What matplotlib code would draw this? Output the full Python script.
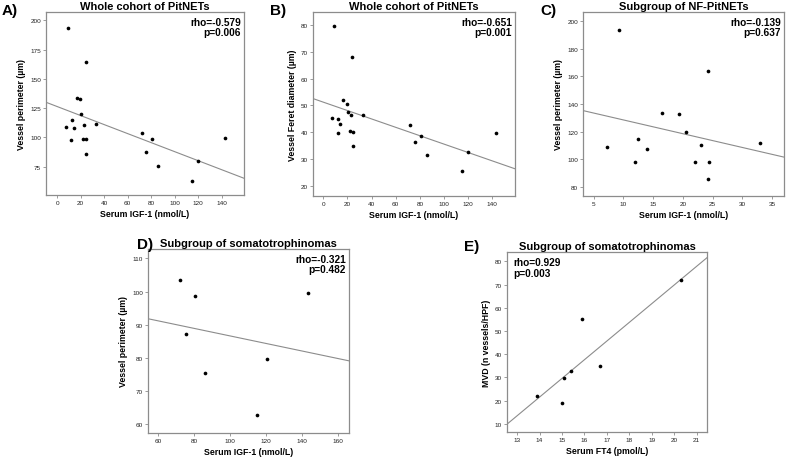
import numpy as np
import matplotlib
matplotlib.use("Agg")
import matplotlib.pyplot as plt

plt.rcParams['font.family'] = ['Liberation Sans', 'DejaVu Sans']

# NF-PitNETs (n=14): serum IGF-1, vessel perimeter, vessel Feret diameter
nf_igf = [7.2, 9.2, 11.9, 12.5, 14.0, 16.5, 19.4, 20.6, 22.1, 23.1, 24.2, 24.4, 24.3, 33.0]
nf_perim = [109.1, 193.7, 97.9, 114.6, 107.6, 133.5, 132.5, 119.7, 98.2, 110.3, 164.0, 98.2, 86.1, 111.5]
nf_feret = [45.5, 79.6, 39.7, 44.8, 43.1, 52.2, 50.7, 47.6, 40.6, 46.4, 68.2, 40.2, 35.1, 46.4]

# somatotrophinomas (n=7)
gh_igf = [72.0, 75.7, 80.7, 85.9, 115.0, 120.2, 143.0]
gh_perim = [103.5, 87.3, 98.7, 75.6, 62.8, 79.6, 99.7]
gh_feret = [42.8, 36.3, 38.5, 31.4, 25.6, 32.6, 39.6]

# somatotrophinomas: FT4 vs MVD
gh_ft4 = [13.89, 14.99, 15.09, 15.40, 15.91, 16.71, 20.30]
gh_mvd = [21.8, 19.2, 29.8, 32.8, 55.0, 35.1, 72.0]

all_igf = nf_igf + gh_igf
all_perim = nf_perim + gh_perim
all_feret = nf_feret + gh_feret

W, H = 786, 464
fig = plt.figure(figsize=(W / 100, H / 100), dpi=100)

grey = '#8c8c8c'

def box(l, t, r, b):
    return [l / W, 1 - b / H, (r - l) / W, (b - t) / H]

def panel(rect, x, y, xlim, ylim, xticks, yticks, title, xlabel, ylabel,
          letter, letter_xy, stats, stats_left=False):
    ax = fig.add_axes(rect)
    ax.scatter(x, y, s=7, color='black', zorder=3, linewidths=0)
    # least squares fit line across the whole axis
    k, c = np.polyfit(x, y, 1)
    xx = np.array(xlim)
    ax.plot(xx, k * xx + c, color=grey, lw=0.8, clip_on=True)
    ax.set_xlim(xlim)
    ax.set_ylim(ylim)
    ax.set_xticks(xticks)
    ax.set_yticks(yticks)
    ax.tick_params(labelsize=4.6, length=2, width=0.6, color=grey,
                   labelcolor='#222222', pad=1.5)
    for s in ax.spines.values():
        s.set_color(grey)
        s.set_linewidth(0.9)
    ax.set_title(title, fontsize=8, fontweight='bold', pad=2)
    ax.set_xlabel(xlabel, fontsize=6.3, fontweight='bold', labelpad=3)
    ax.set_ylabel(ylabel, fontsize=6.3, fontweight='bold', labelpad=3)
    if stats_left:
        ax.text(0.03, 0.97, stats, transform=ax.transAxes, ha='left', va='top',
                fontsize=7.3, fontweight='bold', linespacing=1.1)
    else:
        ax.text(0.985, 0.975, stats, transform=ax.transAxes, ha='right', va='top',
                fontsize=7.3, fontweight='bold', linespacing=1.1, multialignment='right')
    fig.text(letter_xy[0] / W, 1 - letter_xy[1] / H, letter, fontsize=11,
             fontweight='bold', ha='left', va='top')
    return ax

panel(box(46, 13, 244, 196), all_igf, all_perim, (-9.5, 159), (50.7, 207.1),
      range(0, 141, 20), range(75, 201, 25), 'Whole cohort of PitNETs',
      'Serum IGF-1 (nmol/L)', 'Vessel perimeter (\u00b5m)', 'A)', (2, 4),
      'rho=-0.579\np=0.006')

panel(box(313, 13, 515, 197), all_igf, all_feret, (-8.5, 158.8), (16.3, 84.8),
      range(0, 141, 20), range(20, 81, 10), 'Whole cohort of PitNETs',
      'Serum IGF-1 (nmol/L)', 'Vessel Feret diameter (\u00b5m)', 'B)', (270, 4),
      'rho=-0.651\np=0.001')

panel(box(583, 13, 784, 197), nf_igf, nf_perim, (3.2, 37.0), (73.5, 206.5),
      range(5, 36, 5), range(80, 201, 20), 'Subgroup of NF-PitNETs',
      'Serum IGF-1 (nmol/L)', 'Vessel perimeter (\u00b5m)', 'C)', (540, 4),
      'rho=-0.139\np=0.637')

panel(box(148, 250, 349, 434), gh_igf, gh_perim, (54.4, 165.9), (57.4, 112.8),
      range(60, 161, 20), range(60, 111, 10), 'Subgroup of somatotrophinomas',
      'Serum IGF-1 (nmol/L)', 'Vessel perimeter (\u00b5m)', 'D)', (137, 238),
      'rho=-0.321\np=0.482')

panel(box(507, 253, 707, 433), gh_ft4, gh_mvd, (12.55, 21.46), (6.5, 84.0),
      range(13, 22), range(10, 81, 10), 'Subgroup of somatotrophinomas',
      'Serum FT4 (pmol/L)', 'MVD (n vessels/HPF)', 'E)', (464, 240),
      'rho=0.929\np=0.003', stats_left=True)

fig.savefig('out.png', dpi=100)
